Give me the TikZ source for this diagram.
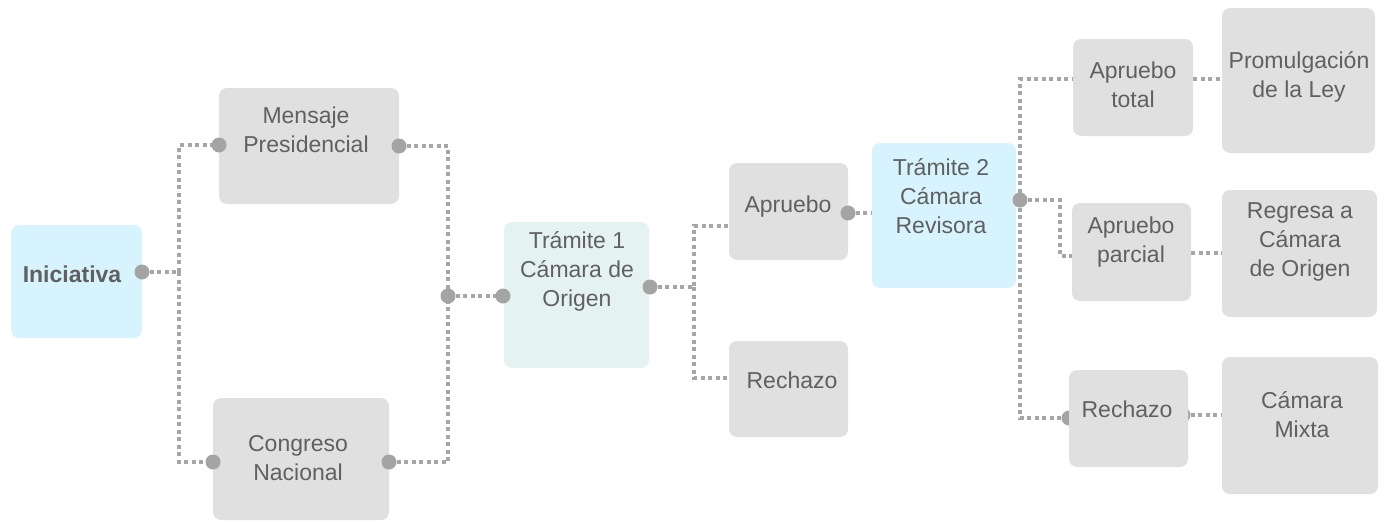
\documentclass[tikz,border=0pt]{standalone}
\usepackage{fontspec}
\setmainfont{Liberation Sans}
\definecolor{boxgray}{HTML}{DFE0DF}
\definecolor{boxblue}{HTML}{D7F3FD}
\definecolor{boxteal}{HTML}{E5F2F2}
\definecolor{txt}{HTML}{606060}
\definecolor{lin}{HTML}{A6A6A6}
\definecolor{dotc}{HTML}{A4A4A4}
\tikzset{
  card/.style={draw=none, rounded corners=8pt, inner sep=0pt, outer sep=0pt},
  graycard/.style={card, fill=boxgray},
  bluecard/.style={card, fill=boxblue},
  tealcard/.style={card, fill=boxteal},
  lbl/.style={inner sep=0pt, align=center, text=txt, font=\fontsize{23}{29}\selectfont},
  conn/.style={draw=lin, line width=3.2pt, dash pattern=on 4pt off 3.5pt},
  knob/.style={circle, fill=dotc, inner sep=0pt, minimum size=15pt},
}
\begin{document}
\begin{tikzpicture}[x=1pt,y=-1pt]
\useasboundingbox (0,0) rectangle (1389,522);

% connection points
\coordinate (inir) at (142,272);
\coordinate (menl) at (219,145);
\coordinate (menr) at (399,146);
\coordinate (conl) at (213,462);
\coordinate (conr) at (389,462);
\coordinate (j1) at (179,272);
\coordinate (j2) at (448,296);
\coordinate (t1l) at (503,296);
\coordinate (t1r) at (650,287);
\coordinate (j3) at (694,287);
\coordinate (ap1l) at (729,226);
\coordinate (re1l) at (729,378);
\coordinate (ap1r) at (848,213);
\coordinate (t2l) at (872,213);
\coordinate (t2r) at (1020,200);
\coordinate (j4) at (1060,200);
\coordinate (aptl) at (1073,79);
\coordinate (aptr) at (1193,79);
\coordinate (proml) at (1222,79);
\coordinate (appl) at (1072,256);
\coordinate (appr) at (1191,253);
\coordinate (regl) at (1222,253);
\coordinate (re2l) at (1069,418);
\coordinate (re2r) at (1183,415);
\coordinate (mixl) at (1222,415);

% connectors
\draw[conn] (inir) -- (j1) |- (menl);
\draw[conn] (j1) |- (conl);
\draw[conn] (menr) -| (j2);
\draw[conn] (conr) -| (j2);
\draw[conn] (j2) -- (t1l);
\draw[conn] (t1r) -- (j3) |- (ap1l);
\draw[conn] (j3) |- (re1l);
\draw[conn] (ap1r) -- (t2l);
\draw[conn] (t2r) |- (aptl);
\draw[conn] (t2r) |- (re2l);
\draw[conn] (t2r) -- (j4) |- (appl);
\draw[conn] (aptr) -- (proml);
\draw[conn] (appr) -- (regl);
\draw[conn] (re2r) -- (mixl);

% knobs hidden behind boxes
\node[knob] (k-re2l) at (re2l) {};
\node[knob] (k-re2r) at (re2r) {};

% boxes
\node[bluecard, minimum width=131pt, minimum height=113pt] (ini) at (76.5,281.5) {};
\node[graycard, minimum width=180pt, minimum height=116pt] (men) at (309,146) {};
\node[graycard, minimum width=176pt, minimum height=122pt] (con) at (301,459) {};
\node[tealcard, minimum width=145pt, minimum height=146pt] (t1) at (576.5,295) {};
\node[graycard, minimum width=119pt, minimum height=97pt] (ap1) at (788.5,211.5) {};
\node[graycard, minimum width=119pt, minimum height=96pt] (re1) at (788.5,389) {};
\node[bluecard, minimum width=144pt, minimum height=145pt] (t2) at (944,215.5) {};
\node[graycard, minimum width=120pt, minimum height=97pt] (apt) at (1133,87.5) {};
\node[graycard, minimum width=153pt, minimum height=145pt] (prom) at (1298.5,80.5) {};
\node[graycard, minimum width=119pt, minimum height=98pt] (app) at (1131.5,252) {};
\node[graycard, minimum width=155pt, minimum height=127pt] (reg) at (1299.5,253.5) {};
\node[graycard, minimum width=119pt, minimum height=97pt] (re2) at (1128.5,418.5) {};
\node[graycard, minimum width=156pt, minimum height=137pt] (mix) at (1300,425.5) {};

% labels
\node[lbl, font=\fontsize{23}{29}\selectfont\bfseries] (ini-t) at (72,274) {Iniciativa};
\node[lbl] (men-t) at (306,130) {Mensaje\\Presidencial};
\node[lbl] (con-t) at (298,458) {Congreso\\Nacional};
\node[lbl] (t1-t) at (577,271) {Trámite 1\\Cámara de\\Origen};
\node[lbl] (ap1-t) at (788,207) {Apruebo};
\node[lbl] (re1-t) at (792,380) {Rechazo};
\node[lbl] (t2-t) at (941,196) {Trámite 2\\Cámara\\Revisora};
\node[lbl] (apt-t) at (1133,85) {Apruebo\\total};
\node[lbl] (prom-t) at (1299,77) {Promulgación\\de la Ley};
\node[lbl] (app-t) at (1131,242) {Apruebo\\parcial};
\node[lbl] (reg-t) at (1300,242) {Regresa a\\Cámara\\de Origen};
\node[lbl] (re2-t) at (1127,409) {Rechazo};
\node[lbl] (mix-t) at (1302,415) {Cámara\\Mixta};

% visible knobs
\foreach \p in {inir,menl,menr,conl,conr,j2,t1l,t1r,ap1r,t2r}
  \node[knob] at (\p) {};
\end{tikzpicture}
\end{document}
